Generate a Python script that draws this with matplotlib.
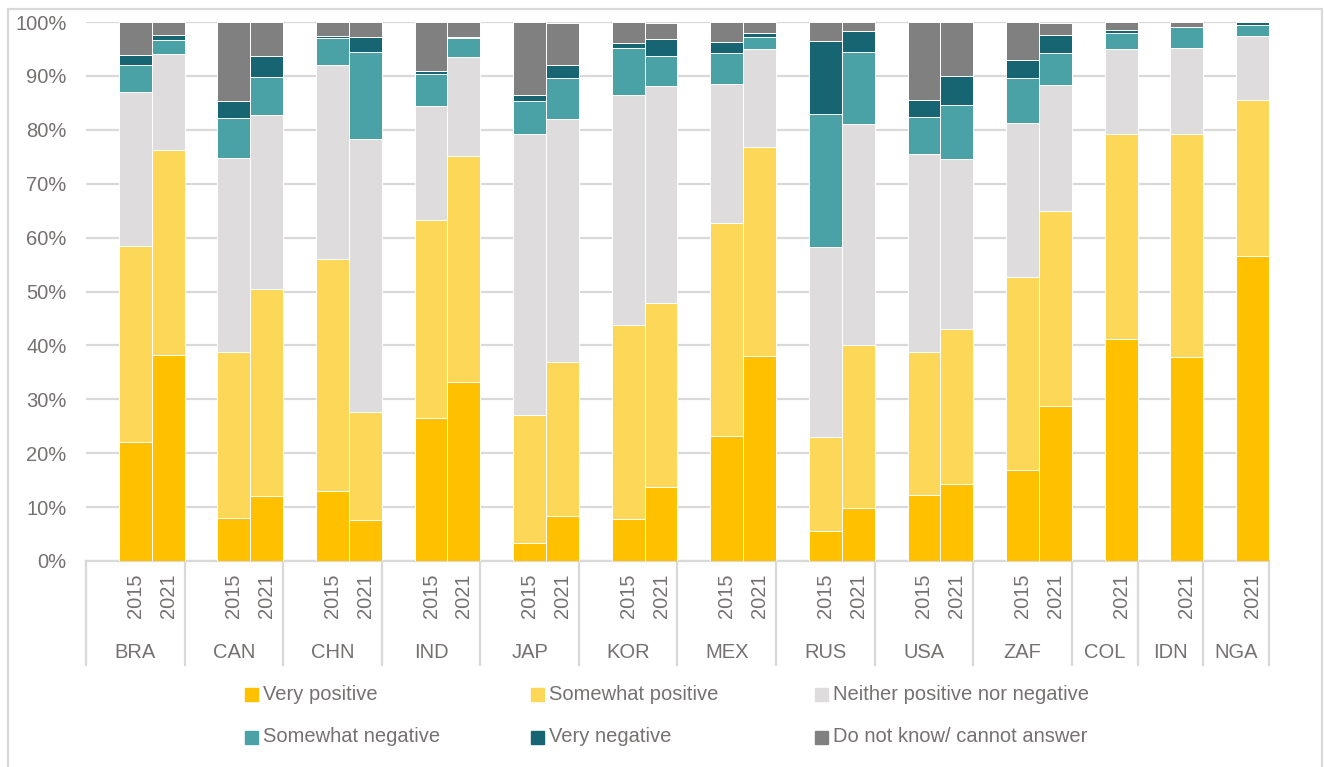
import matplotlib.pyplot as plt
import matplotlib.transforms as mtransforms
from matplotlib.patches import Rectangle

countries = ['BRA', 'CAN', 'CHN', 'IND', 'JAP', 'KOR', 'MEX', 'RUS', 'USA', 'ZAF', 'COL', 'IDN', 'NGA']
years = [['2015', '2021']] * 10 + [['2021']] * 3

# shares in %, one value per bar (country/year order as above)
very_positive = [22.0, 38.2, 8.0, 12.0, 13.0, 7.6, 26.5, 33.3, 3.3, 8.3, 7.8, 13.8,
                 23.2, 38.1, 5.5, 9.8, 12.2, 14.2, 16.8, 28.7, 41.1, 37.8, 56.6]
somewhat_positive = [36.5, 38.0, 30.7, 38.5, 43.0, 20.1, 36.8, 41.9, 23.7, 28.7, 36.0, 34.0,
                     39.5, 38.7, 17.5, 30.2, 26.5, 28.9, 35.8, 36.3, 38.2, 41.5, 28.9]
neither = [28.5, 17.8, 36.1, 32.2, 36.0, 50.6, 21.2, 18.3, 52.3, 45.0, 42.6, 40.3,
           25.8, 18.2, 35.2, 41.0, 36.9, 31.5, 28.6, 23.3, 15.7, 15.9, 11.9]
somewhat_negative = [5.0, 2.7, 7.3, 7.1, 5.0, 16.2, 5.8, 3.5, 6.1, 7.7, 8.8, 5.6,
                     5.8, 2.3, 24.8, 13.5, 6.8, 10.0, 8.5, 6.0, 3.0, 3.8, 2.1]
very_negative = [1.8, 0.9, 3.3, 3.9, 0.4, 2.8, 0.7, 0.3, 1.1, 2.3, 0.9, 3.1,
                 1.9, 0.7, 13.5, 3.9, 3.2, 5.3, 3.3, 3.3, 0.6, 0.0, 0.5]
dont_know = [6.2, 2.4, 14.6, 6.3, 2.6, 2.7, 9.0, 2.7, 13.5, 7.8, 3.9, 3.0,
             3.8, 2.0, 3.5, 1.6, 14.4, 10.1, 7.0, 2.2, 1.4, 1.0, 0.0]

series_names = ['Very positive', 'Somewhat positive', 'Neither positive nor negative',
                'Somewhat negative', 'Very negative', 'Do not know/ cannot answer']
series_values = [very_positive, somewhat_positive, neither,
                 somewhat_negative, very_negative, dont_know]
colors = ['#FFC000', '#FDD757', '#DEDCDD', '#4AA2A6', '#176573', '#808080']

W, H = 1324, 767
FS = 14.5


def main():
    plt.rcParams['font.family'] = ['Liberation Sans', 'DejaVu Sans']
    text_color = '#767171'
    line_color = '#D9D9D9'

    fig = plt.figure(figsize=(W / 100, H / 100), dpi=100)
    ax = fig.add_axes([86 / W, 1 - 561 / H, (1269 - 86) / W, (561 - 22) / H])

    # one empty slot at the start of every country group
    x_pos, group_edges = [], [0]
    slot = 0
    for yrs in years:
        slot += 1
        for _ in yrs:
            x_pos.append(slot + 0.5)
            slot += 1
        group_edges.append(slot)

    bottoms = [0] * len(x_pos)
    for name, vals, col in zip(series_names, series_values, colors):
        ax.bar(x_pos, vals, width=1, bottom=bottoms, color=col,
               edgecolor='white', linewidth=0.7, label=name, zorder=3)
        bottoms = [b + v for b, v in zip(bottoms, vals)]

    ax.set_xlim(0, slot)
    ax.set_ylim(0, 100)
    ax.set_yticks(range(0, 101, 10))
    ax.set_yticklabels([f'{v}%' for v in range(0, 101, 10)])
    ax.set_xticks([])
    ax.tick_params(axis='y', length=0, pad=14, labelsize=FS, labelcolor=text_color)
    ax.set_axisbelow(True)
    ax.grid(axis='y', color=line_color, linewidth=1.6)
    for s in ['top', 'left', 'right']:
        ax.spines[s].set_visible(False)
    ax.spines['bottom'].set_color(line_color)
    ax.spines['bottom'].set_linewidth(1.6)

    trans = mtransforms.blended_transform_factory(ax.transData, ax.transAxes)
    ax_h = 561 - 22

    # two-level category axis
    i = 0
    for g, yrs in enumerate(years):
        for yr in yrs:
            ax.text(x_pos[i], -12 / ax_h, yr, transform=trans, rotation=90,
                    ha='center', va='top', fontsize=FS, color=text_color)
            i += 1
        centre = (group_edges[g] + group_edges[g + 1]) / 2
        ax.text(centre, -91 / ax_h, countries[g], transform=trans,
                ha='center', va='center', fontsize=FS, color=text_color)
    for e in group_edges:
        ax.plot([e, e], [0, -104 / ax_h], transform=trans, clip_on=False,
                color=line_color, linewidth=1.6)

    # legend, 3 columns x 2 rows
    col_x = [245, 531, 815]
    row_y = [694, 737]
    for k, (name, col) in enumerate(zip(series_names, colors)):
        px = col_x[k % 3]
        py = row_y[k // 3]
        fig.patches.append(Rectangle((px / W, 1 - (py + 6.5) / H), 13 / W, 13 / H,
                                     transform=fig.transFigure, color=col))
        fig.text((px + 18) / W, 1 - py / H, name, ha='left', va='center',
                 fontsize=FS, color=text_color)

    # chart frame
    fig.patches.append(Rectangle((8 / W, -0.02), (1322 - 8) / W, 1 - 9 / H + 0.02,
                                 transform=fig.transFigure, fill=False,
                                 edgecolor=line_color, linewidth=1.6))

    fig.savefig('out.png', dpi=100)


if __name__ == "__main__":
    main()
